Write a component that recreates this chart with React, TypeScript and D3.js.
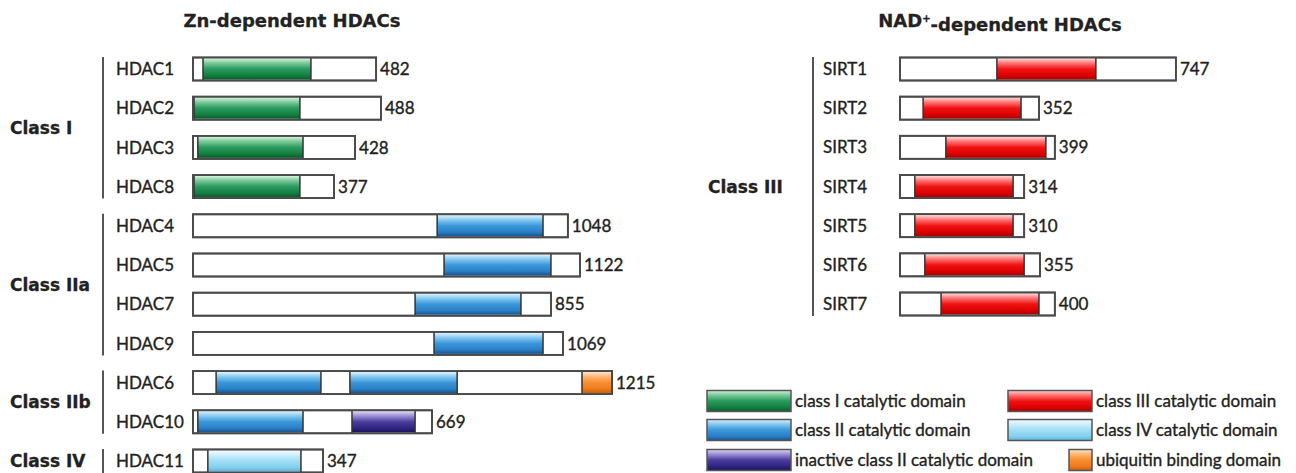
import * as d3 from 'd3';

// Zn-dependent HDACs (drawn extents, in residue units)
const zincNames = ['HDAC1', 'HDAC2', 'HDAC3', 'HDAC8', 'HDAC4', 'HDAC5', 'HDAC7', 'HDAC9', 'HDAC6', 'HDAC10', 'HDAC11'];
const zincLengths = [482, 488, 428, 377, 1048, 1122, 855, 1069, 1215, 669, 347];
const zincDrawnEnds = [531, 545, 470, 409, 1087, 1122, 1038, 1073, 1215, 693, 377];
const zincDomains: [string, number, number][][] = [
  [['classI', 29, 342]],
  [['classI', 3, 310]],
  [['classI', 14, 319]],
  [['classI', 3, 310]],
  [['classII', 708, 1015]],
  [['classII', 728, 1038]],
  [['classII', 644, 951]],
  [['classII', 699, 1015]],
  [['classII', 67, 371], ['classII', 455, 766], ['ubiquitin', 1128, 1215]],
  [['classII', 14, 319], ['inactive', 461, 644]],
  [['classIV', 43, 313]],
];
const zincClassLabels = ['Class I', 'Class IIa', 'Class IIb', 'Class IV'];
const zincClassMembers = [
  ['HDAC1', 'HDAC2', 'HDAC3', 'HDAC8'],
  ['HDAC4', 'HDAC5', 'HDAC7', 'HDAC9'],
  ['HDAC6', 'HDAC10'],
  ['HDAC11'],
];

// NAD+-dependent HDACs
const sirtNames = ['SIRT1', 'SIRT2', 'SIRT3', 'SIRT4', 'SIRT5', 'SIRT6', 'SIRT7'];
const sirtLengths = [747, 352, 399, 314, 310, 355, 400];
const sirtDrawnEnds = [800, 403, 449, 360, 360, 406, 449];
const sirtDomains: [string, number, number][][] = [
  [['classIII', 281, 568]],
  [['classIII', 67, 351]],
  [['classIII', 133, 423]],
  [['classIII', 43, 328]],
  [['classIII', 43, 328]],
  [['classIII', 72, 360]],
  [['classIII', 119, 403]],
];

const legendKeys = ['classI', 'classII', 'inactive', 'classIII', 'classIV', 'ubiquitin'];
const legendLabels = [
  'class I catalytic domain',
  'class II catalytic domain',
  'inactive class II catalytic domain',
  'class III catalytic domain',
  'class IV catalytic domain',
  'ubiquitin binding domain',
];

const gradients: Record<string, string[]> = {
  classI: ['#d2f0dc', '#79c996', '#2a9a5e', '#13803f', '#0a5a2e'],
  classII: ['#dcf1fd', '#86c9f0', '#3b97da', '#2a7fc6', '#17538f'],
  inactive: ['#e0d8f4', '#9d8fd4', '#4b3d9e', '#2f2582', '#1a145e'],
  classIII: ['#ffd6d6', '#ff7474', '#ef1414', '#dc0000', '#a80000'],
  classIV: ['#f4fcff', '#cdeffb', '#a0def4', '#84d0ee', '#5cb4da'],
  ubiquitin: ['#ffe4c8', '#ffb676', '#f88e2e', '#ef7a1c', '#cc5e0e'],
};
const gradStops = [0, 0.22, 0.5, 0.8, 1];

const W = 1296;
const H = 473;
const BAR_H = 23;
const INK = '#222';
const LABEL_FONT = 'Lato, "Open Sans", sans-serif';
const BOLD_FONT = '"DejaVu Sans", Verdana, sans-serif';

const x = d3.scaleLinear().domain([0, 1215]).range([0, 419]);
const zincY = d3.scalePoint<string>().domain(zincNames).range([69, 461]);
const sirtY = d3.scalePoint<string>().domain(sirtNames).range([69, 304]);

// the reference text is a little heavy; a hairline stroke mimics that
const labelStyle = { fontFamily: LABEL_FONT, fontSize: 17, fill: INK, stroke: INK, strokeWidth: 0.35 };

function Protein({ name, y, x0, end, length, domains }: {
  name: string; y: number; x0: number; end: number; length: number; domains: [string, number, number][];
}) {
  const top = y - BAR_H / 2;
  return (
    <g>
      <text x={x0 - 77} y={y} dy="0.36em" {...labelStyle}>{name}</text>
      <rect x={x0} y={top} width={x(end)} height={BAR_H} fill="#fff" stroke="#4a4a4a" strokeWidth={1.8} />
      {domains.map(([key, s, e], i) => (
        <g key={i}>
          <rect x={x0 + x(s)} y={top + 1} width={x(e) - x(s)} height={BAR_H - 2} fill={`url(#g-${key})`} />
          <line x1={x0 + x(s)} x2={x0 + x(s)} y1={top} y2={top + BAR_H} stroke="#333" strokeWidth={1.5} />
          <line x1={x0 + x(e)} x2={x0 + x(e)} y1={top} y2={top + BAR_H} stroke="#333" strokeWidth={1.5} />
        </g>
      ))}
      <rect x={x0} y={top} width={x(end)} height={BAR_H} fill="none" stroke="#4a4a4a" strokeWidth={1.8} />
      <text x={x0 + x(end) + 4} y={y} dy="0.36em" {...labelStyle}>{length}</text>
    </g>
  );
}

export default function App() {
  const leftX0 = 193;
  const rightX0 = 901;
  const legendCols = [707, 1008];
  const legendRows = [401, 430, 460];
  const swatchW = 84;

  return (
    <div style={{ position: 'fixed', left: 0, top: 0, width: W, height: H, background: '#fff' }}>
      <svg width={W} height={H} style={{ display: 'block' }}>
        <defs>
          {Object.entries(gradients).map(([key, cols]) => (
            <linearGradient key={key} id={`g-${key}`} x1="0" y1="0" x2="0" y2="1">
              {cols.map((c, i) => <stop key={i} offset={gradStops[i]} stopColor={c} />)}
            </linearGradient>
          ))}
        </defs>

        {/* titles */}
        <text x={292} y={21} dy="0.36em" textAnchor="middle" fontFamily={BOLD_FONT} fontWeight="bold" fontSize={18}
          fill={INK} stroke={INK} strokeWidth={0.3}>
          Zn-dependent HDACs
        </text>
        <text x={1000} y={21} dy="0.36em" textAnchor="middle" fontFamily={BOLD_FONT} fontWeight="bold" fontSize={18}
          fill={INK} stroke={INK} strokeWidth={0.3}>
          NAD<tspan dy="-0.5em" fontSize={10}>+</tspan><tspan dy="0.5em">-dependent HDACs</tspan>
        </text>

        {/* Zn-dependent classes */}
        {zincClassLabels.map((label, ci) => {
          const members = zincClassMembers[ci];
          const y1 = zincY(members[0])! - 12;
          const y2 = zincY(members[members.length - 1])! + 12;
          return (
            <g key={label}>
              <line x1={103} x2={103} y1={y1} y2={y2} stroke="#555" strokeWidth={2} />
              <text x={10} y={(y1 + y2) / 2} dy="0.36em" fontFamily={BOLD_FONT} fontWeight="bold" fontSize={17}
                fill={INK} stroke={INK} strokeWidth={0.3}>
                {label}
              </text>
            </g>
          );
        })}
        {zincNames.map((name, i) => (
          <Protein key={name} name={name} y={zincY(name)!} x0={leftX0} end={zincDrawnEnds[i]}
            length={zincLengths[i]} domains={zincDomains[i]} />
        ))}

        {/* NAD+-dependent */}
        <line x1={813} x2={813} y1={sirtY(sirtNames[0])! - 12} y2={sirtY(sirtNames[sirtNames.length - 1])! + 12}
          stroke="#555" strokeWidth={2} />
        <text x={708} y={(sirtY(sirtNames[0])! + sirtY(sirtNames[sirtNames.length - 1])!) / 2} dy="0.36em"
          fontFamily={BOLD_FONT} fontWeight="bold" fontSize={17} fill={INK} stroke={INK} strokeWidth={0.3}>Class III</text>
        {sirtNames.map((name, i) => (
          <Protein key={name} name={name} y={sirtY(name)!} x0={rightX0 - 1} end={sirtDrawnEnds[i]}
            length={sirtLengths[i]} domains={sirtDomains[i]} />
        ))}

        {/* legend */}
        {legendKeys.map((key, i) => {
          const col = Math.floor(i / 3);
          const row = i % 3;
          const right = legendCols[col] + swatchW;
          const sw = key === 'ubiquitin' ? 23 : swatchW;
          const cy = legendRows[row];
          return (
            <g key={key}>
              <rect x={right - sw} y={cy - 10.5} width={sw} height={21} fill={`url(#g-${key})`} stroke="#555" strokeWidth={1.5} />
              <text x={right + 4} y={cy} dy="0.36em" {...labelStyle}>{legendLabels[i]}</text>
            </g>
          );
        })}
      </svg>
    </div>
  );
}
